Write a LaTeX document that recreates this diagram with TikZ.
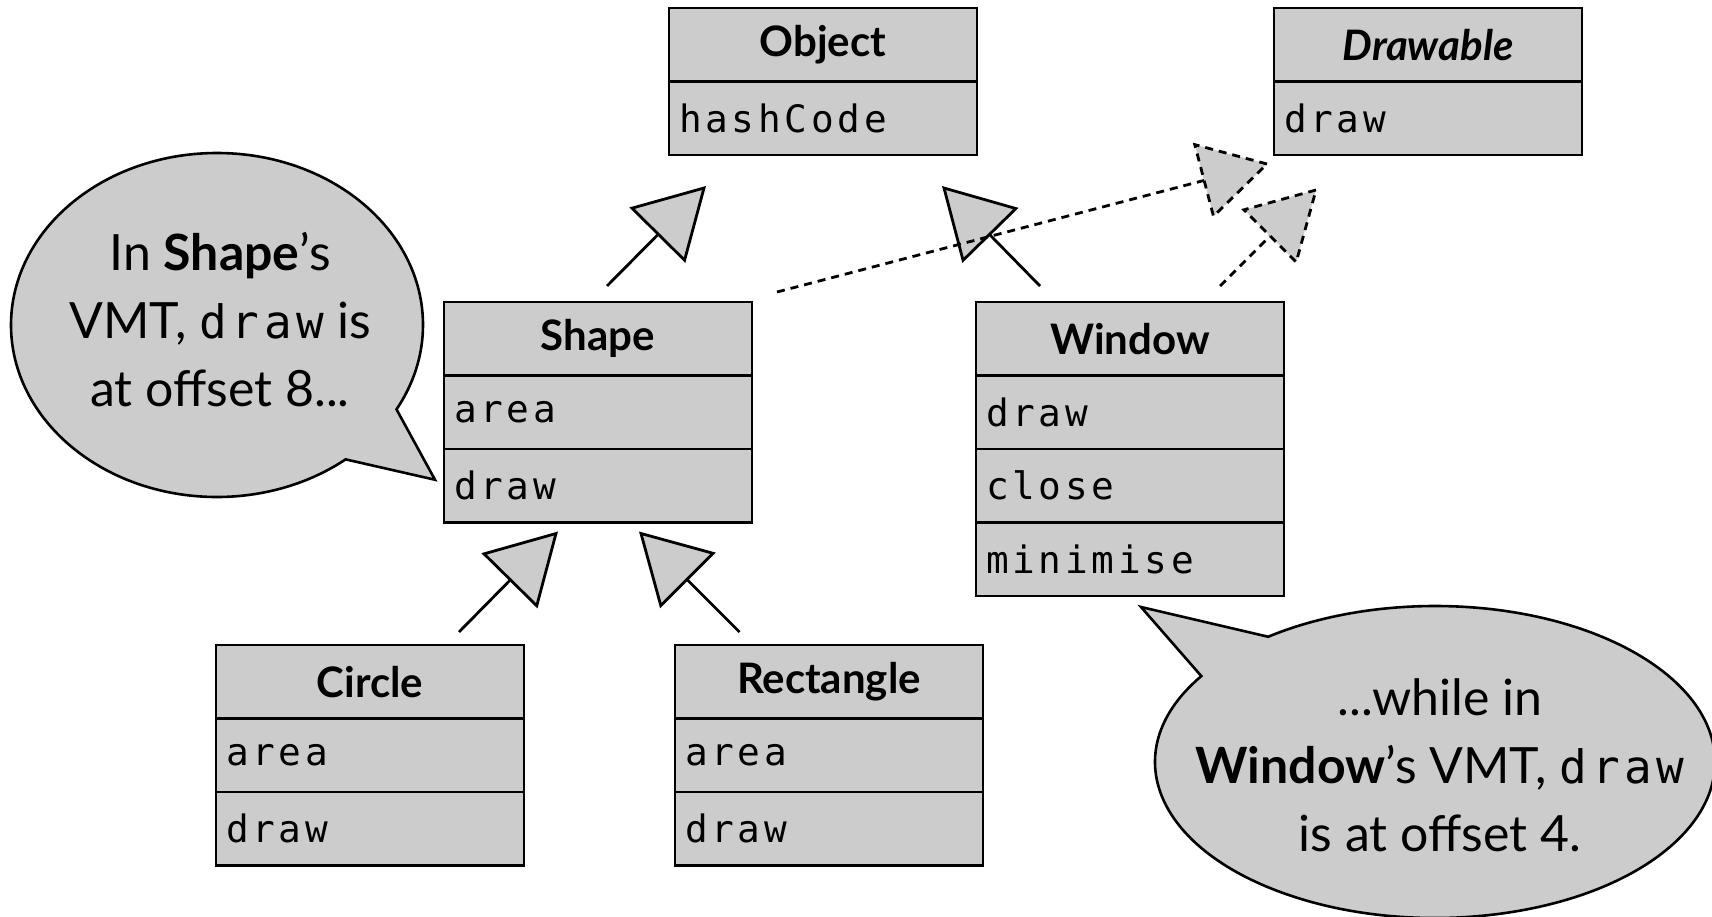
\documentclass[tikz,border=0pt]{standalone}
\usepackage{fontspec}
\setmainfont{Lato}
\newfontfamily\monofont[Scale=0.92,LetterSpace=10]{DejaVu Sans Mono}
\usetikzlibrary{positioning}
\usetikzlibrary{calc}
\usetikzlibrary{shapes.callouts}
\definecolor{umlgray}{HTML}{CCCCCC}
\newcommand{\code}[1]{{\monofont #1}}
% generalisation arrow: start coordinate, tip coordinate
\newcommand{\isa}[3][]{%
\coordinate (isa-base) at ($(#3)!32.5pt!(#2)$);
\draw[inherit, #1] (#2) -- (isa-base);
\draw[inherit, fill=umlgray, #1] (#3) -- ($(isa-base)!18.5pt!90:(#3)$) -- ($(isa-base)!18.5pt!-90:(#3)$) -- cycle;}
\tikzset{
classhead/.style={ % class name row
draw, fill=umlgray, line width=1.45pt, outer sep=0pt,
minimum width=154pt, minimum height=36.75pt,
font=\fontsize{21}{25}\selectfont\bfseries},
classrow/.style={ % one method row
draw, fill=umlgray, line width=1.45pt, outer sep=0pt,
text width=144pt, inner xsep=5pt, minimum height=36.75pt, align=left,
font=\fontsize{20.5}{24}\selectfont\monofont},
note/.style={ % speech bubble
ellipse callout, draw, fill=umlgray, line width=1.3pt,
callout pointer arc=22},
notetext/.style={align=center, font=\fontsize{25}{34}\selectfont},
inherit/.style={line width=1.4pt},
realize/.style={dash pattern=on 4pt off 3pt}}

\begin{document}
\begin{tikzpicture}[x=0.5pt, y=-0.5pt]
	\useasboundingbox (0,0) rectangle (1712,916);
	\node[classhead, anchor=north west] (object) at (669,8) {Object};
	\node[classrow, below=0pt of object] (object-1) {hashCode};
	\node[classhead, anchor=north west] (drawable) at (1274,8) {\itshape Drawable};
	\node[classrow, below=0pt of drawable] (drawable-1) {draw};
	\node[classhead, anchor=north west] (shape) at (444,302) {Shape};
	\node[classrow, below=0pt of shape] (shape-1) {area};
	\node[classrow, below=0pt of shape-1] (shape-2) {draw};
	\node[classhead, anchor=north west] (window) at (976,302) {Window};
	\node[classrow, below=0pt of window] (window-1) {draw};
	\node[classrow, below=0pt of window-1] (window-2) {close};
	\node[classrow, below=0pt of window-2] (window-3) {minimise};
	\node[classhead, anchor=north west] (circle) at (216,645) {Circle};
	\node[classrow, below=0pt of circle] (circle-1) {area};
	\node[classrow, below=0pt of circle-1] (circle-2) {draw};
	\node[classhead, anchor=north west] (rectangle) at (675,645) {Rectangle};
	\node[classrow, below=0pt of rectangle] (rectangle-1) {area};
	\node[classrow, below=0pt of rectangle-1] (rectangle-2) {draw};
	% arrow ends
	\coordinate (sh-up) at ($(shape.north)+(9,-16)$);
	\coordinate (ob-left) at ($(object-1.south west)+(35,33)$);
	\coordinate (wi-up) at ($(window.north)+(-90,-16)$);
	\coordinate (ob-right) at ($(object-1.south east)+(-33,33)$);
	\coordinate (sh-side) at ($(shape.north east)+(25,-10)$);
	\coordinate (dr-left) at ($(drawable-1.south west)+(-7,9)$);
	\coordinate (wi-side) at ($(window.north east)+(-64,-16)$);
	\coordinate (dr-right) at ($(drawable-1.south west)+(42,35)$);
	\coordinate (ci-up) at ($(circle.north)+(89,-13)$);
	\coordinate (sh-left) at ($(shape-2.south)+(-42,11)$);
	\coordinate (re-up) at ($(rectangle.north)+(-89.5,-13)$);
	\coordinate (sh-right) at ($(shape-2.south)+(43,11)$);
	\isa{sh-up}{ob-left}
	\isa{wi-up}{ob-right}
	\isa[realize]{sh-side}{dr-left}
	\isa[realize]{wi-side}{dr-right}
	\isa{ci-up}{sh-left}
	\isa{re-up}{sh-right}
	% bubbles
	\node[note, minimum width=206pt, minimum height=172pt,
		callout absolute pointer={($(shape-2.west)+(-9,-6)$)}] (shapenote) at (217,325) {};
	\node[notetext] (shapenote-text) at ($(shapenote.center)+(3,-5)$)
		{In \textbf{Shape}'s\\VMT, \code{draw} is\\at offset 8...};
	\node[note, minimum width=280pt, minimum height=156pt, callout pointer arc=20,
		callout absolute pointer={($(window-3.south west)+(165,11)$)}] (windownote) at (1435,762) {};
	\node[notetext] (windownote-text) at ($(windownote.center)+(5,3)$)
		{...while in\\\textbf{Window}'s VMT, \code{draw}\\is at offset 4.};
\end{tikzpicture}
\end{document}
